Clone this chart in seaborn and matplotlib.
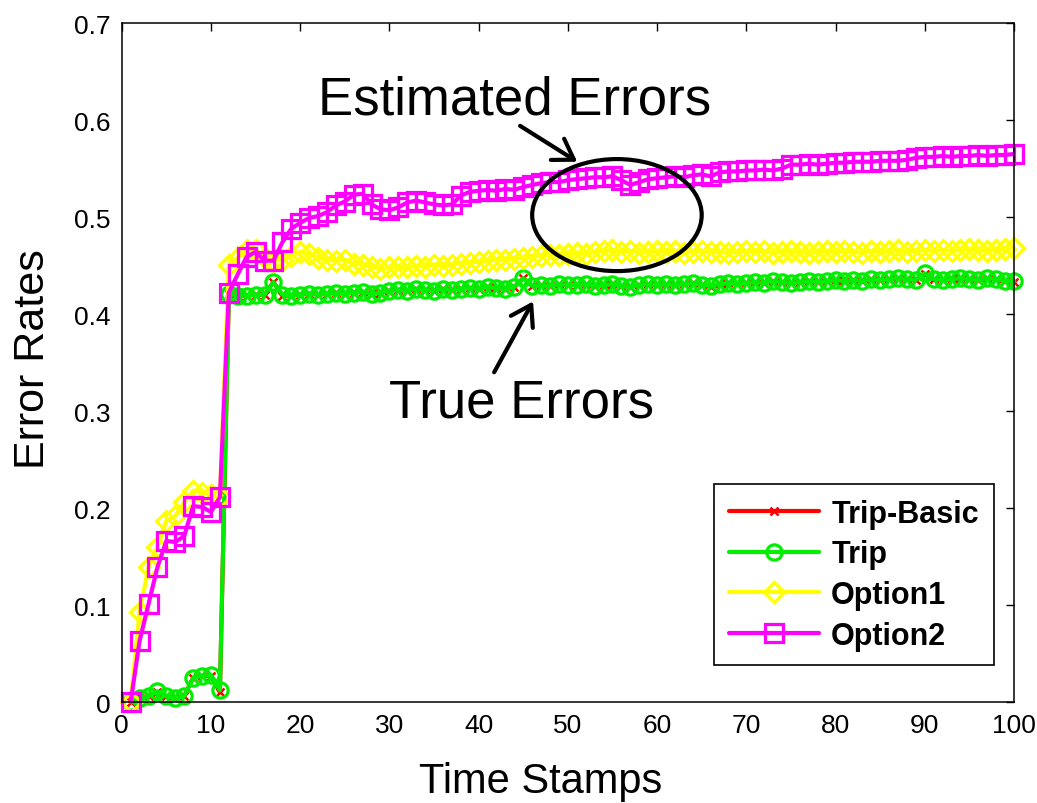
import numpy as np
import pandas as pd
import matplotlib
matplotlib.use("Agg")
import matplotlib.pyplot as plt
from matplotlib.patches import Ellipse
from matplotlib.ticker import FuncFormatter
import seaborn as sns

# data
time_stamps = list(range(1, 101))

trip_basic = [0.0, 0.004, 0.006, 0.010, 0.006, 0.004, 0.006, 0.025, 0.027, 0.027,
              0.010, 0.421, 0.419, 0.419, 0.420, 0.420, 0.433, 0.419, 0.419, 0.420,
              0.421, 0.420, 0.421, 0.422, 0.421, 0.422, 0.423, 0.421, 0.422, 0.424,
              0.425, 0.424, 0.426, 0.425, 0.424, 0.426, 0.425, 0.426, 0.427, 0.426,
              0.428, 0.427, 0.426, 0.428, 0.437, 0.429, 0.430, 0.429, 0.431, 0.430,
              0.430, 0.431, 0.429, 0.430, 0.431, 0.429, 0.428, 0.430, 0.431, 0.430,
              0.431, 0.430, 0.431, 0.432, 0.430, 0.428, 0.431, 0.432, 0.431, 0.432,
              0.433, 0.432, 0.434, 0.433, 0.432, 0.433, 0.434, 0.433, 0.434, 0.435,
              0.434, 0.435, 0.434, 0.436, 0.435, 0.436, 0.437, 0.436, 0.435, 0.441,
              0.436, 0.435, 0.436, 0.437, 0.436, 0.435, 0.437, 0.436, 0.434, 0.433]

trip = [0.0, 0.004, 0.006, 0.011, 0.006, 0.004, 0.006, 0.025, 0.027, 0.028,
        0.012, 0.421, 0.419, 0.419, 0.420, 0.420, 0.433, 0.420, 0.419, 0.420,
        0.421, 0.420, 0.421, 0.422, 0.421, 0.422, 0.423, 0.421, 0.422, 0.424,
        0.425, 0.424, 0.426, 0.425, 0.424, 0.426, 0.425, 0.426, 0.427, 0.426,
        0.428, 0.427, 0.426, 0.428, 0.437, 0.429, 0.430, 0.429, 0.431, 0.430,
        0.430, 0.431, 0.429, 0.430, 0.431, 0.429, 0.428, 0.430, 0.431, 0.430,
        0.431, 0.430, 0.431, 0.432, 0.430, 0.429, 0.431, 0.432, 0.431, 0.432,
        0.433, 0.432, 0.434, 0.433, 0.432, 0.433, 0.434, 0.433, 0.434, 0.435,
        0.434, 0.435, 0.434, 0.436, 0.435, 0.436, 0.437, 0.436, 0.435, 0.442,
        0.436, 0.435, 0.436, 0.437, 0.436, 0.435, 0.437, 0.436, 0.434, 0.434]

option1 = [0.0, 0.093, 0.139, 0.160, 0.187, 0.192, 0.206, 0.218, 0.216, 0.213,
           0.211, 0.451, 0.458, 0.466, 0.466, 0.458, 0.455, 0.456, 0.460, 0.464,
           0.462, 0.458, 0.456, 0.455, 0.456, 0.452, 0.451, 0.449, 0.446, 0.448,
           0.449, 0.448, 0.450, 0.449, 0.451, 0.450, 0.451, 0.452, 0.453, 0.454,
           0.455, 0.456, 0.456, 0.457, 0.458, 0.459, 0.460, 0.461, 0.461, 0.462,
           0.463, 0.462, 0.464, 0.465, 0.466, 0.464, 0.465, 0.463, 0.464, 0.465,
           0.464, 0.465, 0.463, 0.464, 0.465, 0.464, 0.464, 0.463, 0.464, 0.465,
           0.464, 0.465, 0.463, 0.464, 0.465, 0.464, 0.463, 0.464, 0.465, 0.464,
           0.465, 0.464, 0.463, 0.465, 0.464, 0.465, 0.466, 0.464, 0.465, 0.466,
           0.465, 0.466, 0.465, 0.466, 0.467, 0.466, 0.465, 0.466, 0.467, 0.468]

option2 = [0.0, 0.063, 0.101, 0.139, 0.166, 0.165, 0.171, 0.202, 0.201, 0.196,
           0.211, 0.422, 0.441, 0.459, 0.464, 0.455, 0.455, 0.474, 0.488, 0.494,
           0.499, 0.501, 0.505, 0.512, 0.516, 0.523, 0.524, 0.513, 0.508, 0.507,
           0.510, 0.515, 0.517, 0.515, 0.513, 0.512, 0.513, 0.522, 0.526, 0.527,
           0.528, 0.527, 0.529, 0.528, 0.531, 0.533, 0.535, 0.536, 0.536, 0.538,
           0.539, 0.540, 0.541, 0.541, 0.542, 0.538, 0.533, 0.536, 0.539, 0.540,
           0.541, 0.542, 0.541, 0.543, 0.544, 0.542, 0.546, 0.547, 0.547, 0.548,
           0.548, 0.549, 0.548, 0.550, 0.554, 0.554, 0.555, 0.554, 0.555, 0.556,
           0.556, 0.557, 0.557, 0.557, 0.558, 0.558, 0.558, 0.559, 0.561, 0.562,
           0.562, 0.563, 0.562, 0.563, 0.563, 0.564, 0.563, 0.564, 0.564, 0.565]

df = pd.DataFrame({"t": time_stamps, "Trip-Basic": trip_basic, "Trip": trip,
                   "Option1": option1, "Option2": option2})

sns.set_theme(style="white")
plt.rcParams["font.family"] = ["Liberation Sans", "DejaVu Sans"]
plt.rcParams["text.color"] = "black"
plt.rcParams["axes.labelcolor"] = "black"
plt.rcParams["xtick.color"] = "black"
plt.rcParams["ytick.color"] = "black"

fig = plt.figure(figsize=(10.37, 8.04), dpi=100)
ax = fig.add_axes([0.1174, 0.1256, 0.8604, 0.8445])

lw = 3
sns.lineplot(data=df, x="t", y="Trip-Basic", ax=ax, color="#ff0000", lw=lw,
             marker="x", ms=6, mec="#ff0000", mew=1.8, label="Trip-Basic", clip_on=False)
sns.lineplot(data=df, x="t", y="Trip", ax=ax, color="#00ee00", lw=lw,
             marker="o", ms=11, mfc="none", mec="#00ee00", mew=2.3, label="Trip", clip_on=False)
sns.lineplot(data=df, x="t", y="Option1", ax=ax, color="#ffff00", lw=lw,
             marker="D", ms=10, mfc="none", mec="#ffff00", mew=2.3, label="Option1", clip_on=False)
sns.lineplot(data=df, x="t", y="Option2", ax=ax, color="#ff00ff", lw=lw,
             marker="s", ms=13, mfc="none", mec="#ff00ff", mew=2.3, label="Option2", clip_on=False)

ax.set_xlim(0, 100)
ax.set_ylim(0, 0.7)
ax.set_xticks(np.arange(0, 101, 10))
ax.set_yticks(np.arange(0, 0.71, 0.1))
ax.yaxis.set_major_formatter(FuncFormatter(lambda v, p: "%g" % round(v, 2)))
ax.tick_params(direction="in", top=True, right=True, length=6, width=1,
               labelsize=19, pad=8, colors="black")
for s in ax.spines.values():
    s.set_color("black")
    s.set_linewidth(1.1)

ax.set_xlabel("Time Stamps", fontsize=30, va="center")
ax.xaxis.set_label_coords(0.469, -0.116)
ax.set_ylabel("Error Rates", fontsize=31, va="center")
ax.yaxis.set_label_coords(-0.1, 0.507)

# annotations
ax.add_patch(Ellipse((55.5, 0.502), 19.0, 0.1155, fill=False, lw=3, ec="black", zorder=10))
ax.annotate("", xy=(51.05, 0.557), xytext=(44.65, 0.594),
            arrowprops=dict(arrowstyle="->,head_length=0.7,head_width=0.45", lw=3, color="black",
                            mutation_scale=20, shrinkA=0, shrinkB=0), zorder=10)
ax.annotate("", xy=(46.1, 0.413), xytext=(41.74, 0.340),
            arrowprops=dict(arrowstyle="->,head_length=0.7,head_width=0.45", lw=3, color="black",
                            mutation_scale=20, shrinkA=0, shrinkB=0), zorder=10)
ax.text(44.0, 0.621, "Estimated Errors", fontsize=38, ha="center", va="center")
ax.text(44.8, 0.309, "True Errors", fontsize=38, ha="center", va="center")

leg = ax.legend(loc="upper left", bbox_to_anchor=(0.664, 0.321), fancybox=False,
                edgecolor="black", framealpha=1, prop={"weight": "bold", "size": 22},
                handlelength=2.95, handletextpad=0.4, labelspacing=0.35,
                borderpad=0.48, borderaxespad=0)
leg.get_frame().set_linewidth(1.2)

fig.savefig("out.png", dpi=100)
